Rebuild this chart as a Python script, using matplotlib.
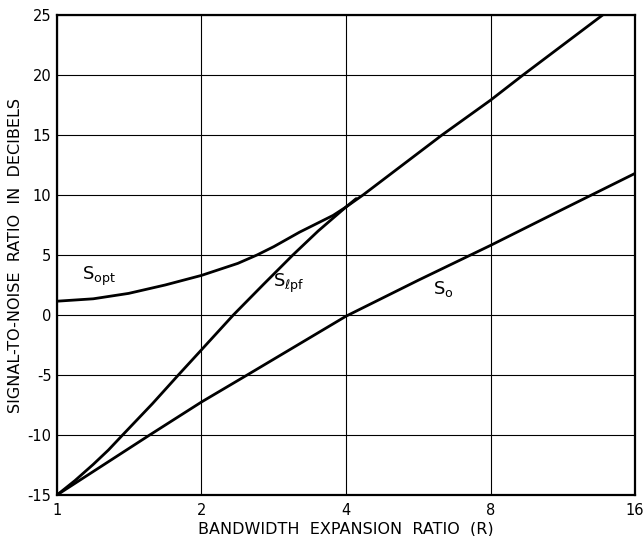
import numpy as np
import matplotlib
matplotlib.use("Agg")
import matplotlib.pyplot as plt
from matplotlib.ticker import FixedLocator, FixedFormatter, NullLocator

# values (x = bandwidth ratio R, y = dB)
x_ticks = [1, 2, 4, 8, 16]
y_ticks = [-15, -10, -5, 0, 5, 10, 15, 20, 25]

r_opt = [1.0, 1.19, 1.41, 1.68, 2.0, 2.38, 2.61, 2.83, 3.2, 3.76, 4.0, 4.2]
s_opt = [1.15, 1.35, 1.8, 2.5, 3.3, 4.3, 5.0, 5.7, 6.9, 8.3, 9.0, 9.7]

r_lpf = [1.0, 1.09, 1.19, 1.28, 1.37, 1.58, 1.79, 2.0, 2.33, 2.7, 3.1, 3.5, 4.0, 4.34, 6.34, 8.0, 9.35, 13.7]
s_lpf = [-15.0, -13.8, -12.45, -11.25, -10.0, -7.4, -5.0, -2.9, 0.0, 2.6, 5.0, 7.0, 9.0, 10.0, 15.0, 17.9, 20.0, 25.0]

r_o = [1.0, 1.56, 2.0, 2.49, 4.0, 5.66, 8.0, 11.3, 16.0]
s_o = [-15.0, -10.0, -7.25, -5.0, -0.1, 2.9, 5.8, 8.8, 11.8]

plt.rcParams['font.family'] = ['DejaVu Sans']

fig = plt.figure(figsize=(6.43, 5.36), dpi=100)
ax = fig.add_axes([0.0886, 0.0765, 0.899, 0.8955])

ax.plot(r_opt, s_opt, color='black', lw=2.0, solid_capstyle='round')
ax.plot(r_lpf, s_lpf, color='black', lw=2.0, solid_capstyle='round')
ax.plot(r_o, s_o, color='black', lw=2.0, solid_capstyle='round')

ax.set_xscale('log', base=2)
ax.set_xlim(1, 16)
ax.set_ylim(-15, 25)
ax.xaxis.set_major_locator(FixedLocator(x_ticks))
ax.xaxis.set_major_formatter(FixedFormatter([str(v) for v in x_ticks]))
ax.xaxis.set_minor_locator(NullLocator())
ax.set_yticks(y_ticks)
ax.set_yticklabels([str(v) for v in y_ticks])

ax.grid(True, color='black', lw=0.8)
ax.tick_params(length=0, labelsize=10.5)
ax.tick_params(axis='y', pad=4)
ax.tick_params(axis='x', pad=6)
for sp in ax.spines.values():
    sp.set_linewidth(1.6)

ax.text(1.13, 3.25, r'$\mathregular{S_{opt}}$', fontsize=13, va='center')
ax.text(2.82, 2.6, r'$\mathregular{S_{\ell pf}}$', fontsize=13, va='center')
ax.text(6.07, 2.2, r'$\mathregular{S_{o}}$', fontsize=13, va='center')

ax.set_xlabel('BANDWIDTH  EXPANSION  RATIO  (R)', fontsize=11.5, labelpad=2)
ax.set_ylabel('SIGNAL-TO-NOISE  RATIO  IN  DECIBELS', fontsize=11.5, labelpad=3)

fig.savefig('out.png', dpi=100)
